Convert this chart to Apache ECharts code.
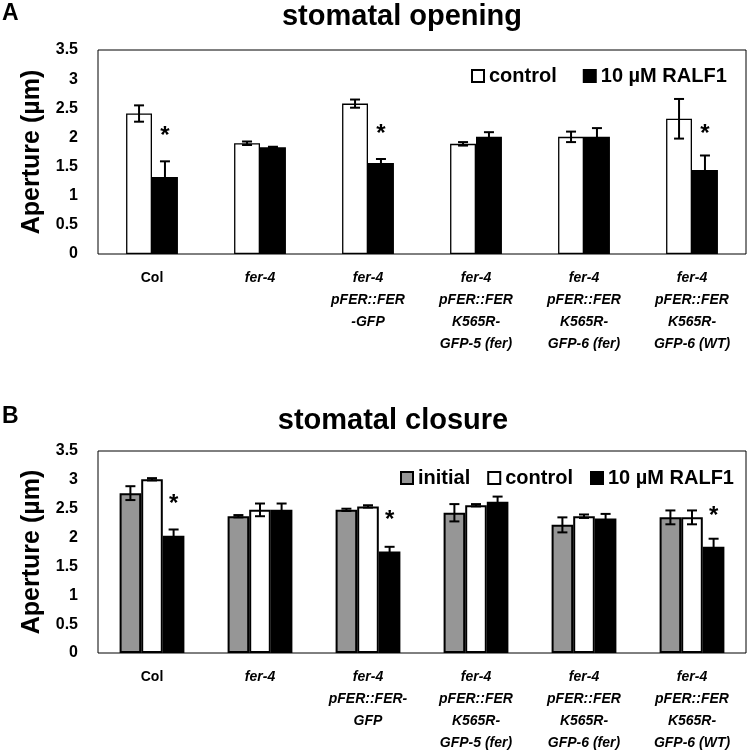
<!DOCTYPE html>
<html>
<head>
<meta charset="utf-8">
<script src="https://cdn.jsdelivr.net/npm/echarts@6/dist/echarts.min.js"></script>
<style>
html,body{margin:0;padding:0;background:#fff;}
#chart{width:748px;height:752px;}
</style>
</head>
<body>
<div id="chart"></div>
<script>
// ---------- DATA ----------
const categoriesA = ['Col', 'fer-4', 'fer-4\npFER::FER\n-GFP', 'fer-4\npFER::FER\nK565R-\nGFP-5 (fer)', 'fer-4\npFER::FER\nK565R-\nGFP-6 (fer)', 'fer-4\npFER::FER\nK565R-\nGFP-6 (WT)'];
const categoriesB = ['Col', 'fer-4', 'fer-4\npFER::FER-\nGFP', 'fer-4\npFER::FER\nK565R-\nGFP-5 (fer)', 'fer-4\npFER::FER\nK565R-\nGFP-6 (fer)', 'fer-4\npFER::FER\nK565R-\nGFP-6 (WT)'];
const seriesNamesA = ['control', '10 µM RALF1'];
const seriesNamesB = ['initial', 'control', '10 µM RALF1'];
const titleA = 'stomatal opening';
const titleB = 'stomatal closure';
const yAxisName = 'Aperture (µm)';
const yMin = 0, yMax = 3.5, yStep = 0.5;

// Panel A
const controlA    = [2.41, 1.90, 2.58, 1.89, 2.01, 2.32];
const controlAErr = [0.14, 0.03, 0.07, 0.03, 0.09, 0.34];
const ralfA       = [1.32, 1.83, 1.56, 2.01, 2.01, 1.44];
const ralfAErr    = [0.27, 0.01, 0.07, 0.08, 0.15, 0.25];
const sigA        = [2.02, null, 2.05, null, null, 2.05];

// Panel B
const initialB    = [2.77, 2.37, 2.48, 2.43, 2.22, 2.35];
const initialBErr = [0.12, 0.02, 0.02, 0.15, 0.13, 0.12];
const controlB    = [3.01, 2.48, 2.54, 2.56, 2.37, 2.35];
const controlBErr = [0.02, 0.11, 0.02, 0.02, 0.03, 0.12];
const ralfB       = [2.03, 2.48, 1.76, 2.62, 2.33, 1.84];
const ralfBErr    = [0.11, 0.11, 0.08, 0.09, 0.08, 0.14];
const sigB        = [2.58, null, 2.29, null, null, 2.37];

// ---------- FONTS ----------
function hasFont(f) {
  const c = document.createElement('canvas').getContext('2d');
  c.font = 'bold italic 20px monospace';
  const w1 = c.measureText('pFER::FER abcW').width;
  c.font = 'bold italic 20px "' + f + '", monospace';
  const w2 = c.measureText('pFER::FER abcW').width;
  return Math.abs(w1 - w2) > 0.5;
}
const SANS = '"Liberation Sans", Arial, sans-serif';
const narrowOK = hasFont('Liberation Sans Narrow');
const XFAM = narrowOK ? '"Liberation Sans Narrow", ' + SANS : SANS;
const XSIZE = narrowOK ? 15 : 14;

// ---------- HELPERS ----------
const fracA = 0.24, fracB = 0.20;

function catLabelFormatter(v) {
  if (v === 'Col') return '{n|Col}';
  return v.split('\n').map(s => '{i|' + s + '}').join('\n');
}

function errSeries(gridIdx, vals, errs, barIdx, nBars, frac, lw) {
  return {
    type: 'custom',
    xAxisIndex: gridIdx, yAxisIndex: gridIdx,
    z: 5, silent: true,
    data: vals.map((v, i) => [i, v, errs[i]]),
    renderItem: function (params, api) {
      const i = api.value(0), v = api.value(1), e = api.value(2);
      const band = api.size([1, 0])[0];
      const bw = band * frac;
      const cx = api.coord([i, v])[0] + (barIdx - (nBars - 1) / 2) * bw;
      const yT = api.coord([i, v + e])[1];
      const yB = api.coord([i, v - e])[1];
      const cap = 5;
      const st = { stroke: '#000', lineWidth: lw };
      return {
        type: 'group',
        children: [
          { type: 'line', shape: { x1: cx, y1: yT, x2: cx, y2: yB }, style: st },
          { type: 'line', shape: { x1: cx - cap, y1: yT, x2: cx + cap, y2: yT }, style: st },
          { type: 'line', shape: { x1: cx - cap, y1: yB, x2: cx + cap, y2: yB }, style: st }
        ]
      };
    }
  };
}

function sigSeries(gridIdx, sig, barIdx, nBars, frac) {
  const data = [];
  sig.forEach((v, i) => { if (v !== null) data.push([i, v]); });
  return {
    type: 'custom',
    xAxisIndex: gridIdx, yAxisIndex: gridIdx,
    z: 6, silent: true,
    data: data,
    renderItem: function (params, api) {
      const i = api.value(0), v = api.value(1);
      const band = api.size([1, 0])[0];
      const bw = band * frac;
      const p = api.coord([i, v]);
      const cx = p[0] + (barIdx - (nBars - 1) / 2) * bw;
      return {
        type: 'text',
        x: cx, y: p[1],
        style: { text: '*', fill: '#000', font: 'bold 24px ' + SANS, align: 'center', verticalAlign: 'middle' }
      };
    }
  };
}

function xAxisCfg(gridIdx, cats) {
  return {
    type: 'category', gridIndex: gridIdx, data: cats,
    axisLine: { show: false }, axisTick: { show: false },
    splitLine: { show: false },
    axisLabel: {
      interval: 0, margin: 13,
      formatter: catLabelFormatter,
      rich: {
        n: { fontFamily: XFAM, fontSize: XSIZE, fontWeight: 'bold', color: '#000', lineHeight: 22 },
        i: { fontFamily: XFAM, fontSize: XSIZE, fontWeight: 'bold', fontStyle: 'italic', color: '#000', lineHeight: 22 }
      }
    }
  };
}

function yAxisCfg(gridIdx) {
  return {
    type: 'value', gridIndex: gridIdx, min: yMin, max: yMax, interval: yStep,
    axisLine: { show: false }, axisTick: { show: false }, splitLine: { show: false },
    axisLabel: { margin: 20, fontFamily: SANS, fontSize: 16, fontWeight: 'bold', color: '#000' },
    name: yAxisName, nameLocation: 'middle', nameGap: 47,
    nameTextStyle: { fontFamily: SANS, fontSize: 25, fontWeight: 'bold', color: '#000' }
  };
}

function barSeries(name, gridIdx, vals, color, frac, bw) {
  return {
    name: name, type: 'bar', xAxisIndex: gridIdx, yAxisIndex: gridIdx,
    data: vals, barWidth: (frac * 100) + '%', barGap: '0%',
    itemStyle: { color: color, borderColor: '#000', borderWidth: bw },
    emphasis: { disabled: true }, z: 2
  };
}

// ---------- CHART ----------
const chart = echarts.init(document.getElementById('chart'), null, { renderer: 'canvas' });

const option = {
  animation: false,
  backgroundColor: '#fff',
  grid: [
    { left: 98, top: 50, width: 648, height: 204, show: true, borderColor: '#000', borderWidth: 1, backgroundColor: 'transparent' },
    { left: 98, top: 451, width: 648, height: 202, show: true, borderColor: '#000', borderWidth: 1, backgroundColor: 'transparent' }
  ],
  xAxis: [xAxisCfg(0, categoriesA), xAxisCfg(1, categoriesB)],
  yAxis: [yAxisCfg(0), yAxisCfg(1)],
  legend: [
    {
      left: 466, top: 61, itemWidth: 12, itemHeight: 12, itemGap: 26, icon: 'rect',
      data: seriesNamesA, selectedMode: false,
      textStyle: { fontFamily: SANS, fontSize: 20, fontWeight: 'bold', color: '#000' }
    },
    {
      left: 395, top: 463, itemWidth: 12, itemHeight: 12, itemGap: 17, icon: 'rect',
      data: seriesNamesB, selectedMode: false,
      textStyle: { fontFamily: SANS, fontSize: 20, fontWeight: 'bold', color: '#000' }
    }
  ],
  graphic: [
    { type: 'text', x: 2, y: 14, style: { text: 'A', font: 'bold 23px ' + SANS, fill: '#000', align: 'left', verticalAlign: 'middle' } },
    { type: 'text', x: 402, y: 17, style: { text: titleA, font: 'bold 29px ' + SANS, fill: '#000', align: 'center', verticalAlign: 'middle' } },
    { type: 'text', x: 2, y: 417, style: { text: 'B', font: 'bold 23px ' + SANS, fill: '#000', align: 'left', verticalAlign: 'middle' } },
    { type: 'text', x: 393, y: 421, style: { text: titleB, font: 'bold 29px ' + SANS, fill: '#000', align: 'center', verticalAlign: 'middle' } }
  ],
  series: [
    barSeries(seriesNamesA[0], 0, controlA, '#ffffff', fracA, 1.3),
    barSeries(seriesNamesA[1], 0, ralfA, '#000000', fracA, 1.3),
    errSeries(0, controlA, controlAErr, 0, 2, fracA, 2),
    errSeries(0, ralfA, ralfAErr, 1, 2, fracA, 2),
    sigSeries(0, sigA, 1, 2, fracA),

    barSeries(seriesNamesB[0], 1, initialB, '#969696', fracB, 2),
    barSeries(seriesNamesB[1], 1, controlB, '#ffffff', fracB, 2),
    barSeries(seriesNamesB[2], 1, ralfB, '#000000', fracB, 2),
    errSeries(1, initialB, initialBErr, 0, 3, fracB, 2),
    errSeries(1, controlB, controlBErr, 1, 3, fracB, 2),
    errSeries(1, ralfB, ralfBErr, 2, 3, fracB, 2),
    sigSeries(1, sigB, 2, 3, fracB)
  ]
};
chart.setOption(option);
</script>
</body>
</html>
